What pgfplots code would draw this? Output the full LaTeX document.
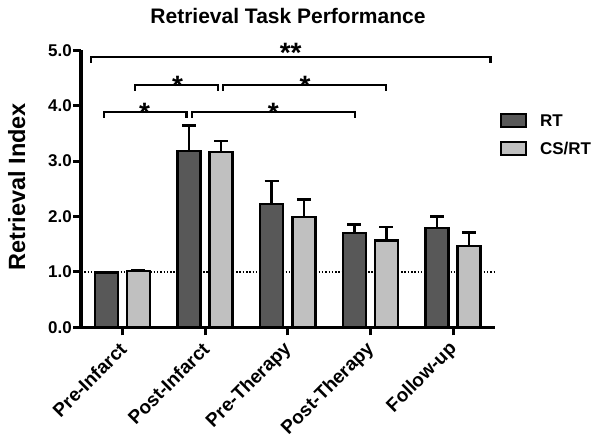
\documentclass[border=0pt]{standalone}
\usepackage{pgfplots}
\pgfplotsset{compat=1.18}
\usepackage{fontspec}
\setmainfont{Liberation Sans}
\definecolor{rtgray}{RGB}{88,88,88}
\definecolor{csgray}{RGB}{192,192,192}
\newcommand{\fs}[1]{\fontsize{#1}{#1}\selectfont\bfseries}

\begin{document}
\begin{tikzpicture}[x=1pt,y=1pt]
\fill[white] (0,0) rectangle (600,442);
\useasboundingbox (0,0) rectangle (600,442);
\begin{axis}[
  at={(81pt,114.7pt)}, anchor=south west,
  scale only axis, width=413.5pt, height=277pt,
  xmin=-0.5, xmax=4.5, ymin=0, ymax=5,
  axis x line=bottom, axis y line=left,
  axis line style={-, line width=3.5pt},
  xtick={0,1,2,3,4},
  xticklabels={Pre-Infarct,Post-Infarct,Pre-Therapy,Post-Therapy,Follow-up},
  ytick={0,1,2,3,4,5},
  tick align=outside, major tick length=8pt,
  tick style={line width=3pt, black},
  yticklabel style={font=\fs{17}, inner sep=1pt, /pgf/number format/.cd, fixed, fixed zerofill, precision=1, assume math mode=true},
  xticklabel style={font=\fs{19}, xshift=1.5pt, yshift=-10pt, rotate=45, anchor=east, inner sep=1pt},
  clip=false,
  legend style={at={(1.013,0.7726)}, anchor=north west, draw=none, fill=none,
    inner sep=0pt, row sep=13pt, font=\fs{17},
    nodes={inner sep=0pt},
    /tikz/every odd column/.append style={column sep=13pt}},
  legend cell align=left,
]
\addplot[forget plot, black, line width=2pt, dash pattern=on 1.5pt off 1.8pt] coordinates {(-0.5,1) (4.5,1)};

\addplot[ybar, bar width=23pt, bar shift=0pt, fill=rtgray, draw=black, line width=2.5pt,
  legend image code/.code={\draw[fill=rtgray, draw=black, line width=2pt] (0pt,-6.5pt) rectangle (25pt,6.5pt);},
  error bars/.cd, y dir=plus, y explicit, error mark=|,
  error bar style={line width=2.5pt, black},
  error mark options={line width=2.5pt, mark size=7pt, black}]
  coordinates {(-0.1935,0.99) +- (0,0.01) (0.8065,3.18) +- (0,0.46) (1.8065,2.23) +- (0,0.41) (2.8065,1.70) +- (0,0.16) (3.8065,1.79) +- (0,0.21)};
\addlegendentry{RT}

\addplot[ybar, bar width=23pt, bar shift=0pt, fill=csgray, draw=black, line width=2.5pt,
  legend image code/.code={\draw[fill=csgray, draw=black, line width=2pt] (0pt,-6.5pt) rectangle (25pt,6.5pt);},
  error bars/.cd, y dir=plus, y explicit, error mark=|,
  error bar style={line width=2.5pt, black},
  error mark options={line width=2.5pt, mark size=7pt, black}]
  coordinates {(0.1935,1.02) +- (0,0.01) (1.1935,3.16) +- (0,0.20) (2.1935,1.99) +- (0,0.32) (3.1935,1.57) +- (0,0.24) (4.1935,1.47) +- (0,0.24)};
\addlegendentry{CS/RT}

% significance brackets
\draw[line width=2.3pt] (axis cs:-0.375,4.776) -- (axis cs:-0.375,4.876) -- (axis cs:4.45,4.876) -- (axis cs:4.45,4.776);
\draw[line width=2.3pt] (axis cs:0.149,4.27) -- (axis cs:0.149,4.37) -- (axis cs:1.156,4.37) -- (axis cs:1.156,4.27);
\draw[line width=2.3pt] (axis cs:1.216,4.27) -- (axis cs:1.216,4.37) -- (axis cs:3.184,4.37) -- (axis cs:3.184,4.27);
\draw[line width=2.3pt] (axis cs:-0.222,3.785) -- (axis cs:-0.222,3.885) -- (axis cs:0.774,3.885) -- (axis cs:0.774,3.785);
\draw[line width=2.3pt] (axis cs:0.846,3.785) -- (axis cs:0.846,3.885) -- (axis cs:2.809,3.885) -- (axis cs:2.809,3.785);
\node[font=\fs{28}, inner sep=0pt, anchor=base, yshift=-16pt] at (axis cs:2.036,5.065) {**};
\node[font=\fs{28}, inner sep=0pt, anchor=base, yshift=-16pt] at (axis cs:0.668,4.48) {*};
\node[font=\fs{28}, inner sep=0pt, anchor=base, yshift=-16pt] at (axis cs:2.21,4.48) {*};
\node[font=\fs{28}, inner sep=0pt, anchor=base, yshift=-16pt] at (axis cs:0.27,3.99) {*};
\node[font=\fs{28}, inner sep=0pt, anchor=base, yshift=-16pt] at (axis cs:1.827,3.99) {*};
\end{axis}
\node[font=\fs{21}, anchor=base] at (288,418.7) {Retrieval Task Performance};
\node[font=\fs{23.5}, rotate=90, anchor=base] at (25,255.5) {Retrieval Index};
\end{tikzpicture}
\end{document}
